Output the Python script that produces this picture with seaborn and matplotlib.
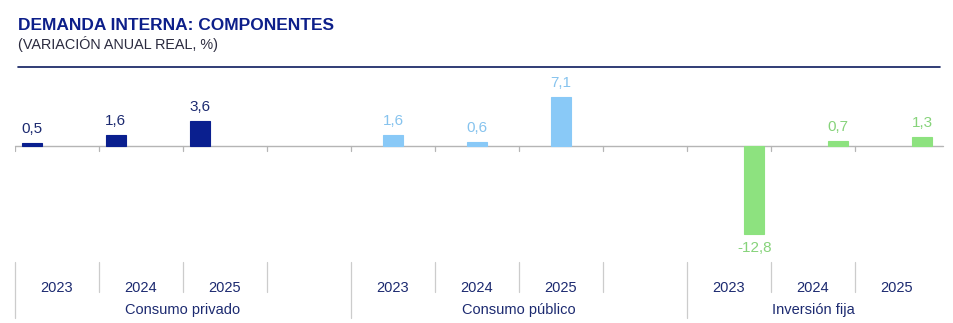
import matplotlib
matplotlib.use("Agg")
import matplotlib.pyplot as plt
import seaborn as sns
import pandas as pd
from matplotlib.lines import Line2D

# ---- data ----
groups = ["Consumo privado", "Consumo público", "Inversión fija"]
years = ["2023", "2024", "2025"]
consumo_privado = [0.5, 1.6, 3.6]
consumo_publico = [1.6, 0.6, 7.1]
inversion_fija = [-12.8, 0.7, 1.3]
series_values = [consumo_privado, consumo_publico, inversion_fija]
colors = {"Consumo privado": "#0a1f8f",
          "Consumo público": "#89c9f7",
          "Inversión fija": "#8de27f"}
label_colors = {"Consumo privado": "#1c2a70",
                "Consumo público": "#86c3ee",
                "Inversión fija": "#86d37a"}

rows = []
for g, vals in zip(groups, series_values):
    for y, v in zip(years, vals):
        rows.append({"slot": f"{g}|{y}", "group": g, "year": y, "value": v})
df = pd.DataFrame(rows)

order = []
for i, g in enumerate(groups):
    order += [f"{g}|{y}" for y in years]
    if i < len(groups) - 1:
        order.append(f"gap{i}")

# ---- figure ----
sns.set_theme(style="white")
plt.rcParams["font.family"] = ["Liberation Sans", "DejaVu Sans"]
W, H = 954, 323
fig = plt.figure(figsize=(W / 100, H / 100), dpi=100)
ax_left, ax_right = 15 / W, 939 / W
ax_top, ax_bot = 80 / H, 262 / H
ax = fig.add_axes([ax_left, 1 - ax_bot, ax_right - ax_left, ax_bot - ax_top])

sns.barplot(data=df, x="slot", y="value", hue="group", order=order,
            hue_order=groups, palette=colors, dodge=True, width=0.9,
            gap=0.22, legend=False, ax=ax, saturation=1)
for p in ax.patches:
    p.set_edgecolor(p.get_facecolor())
    p.set_linewidth(0.8)

ax.set_xlim(-0.5, len(order) - 0.5)
ax.set_ylim(-16.8, 9.6)
for s in ax.spines.values():
    s.set_visible(False)
ax.set_yticks([])
ax.set_xlabel("")
ax.set_ylabel("")
ax.axhline(0, color="#b5b5b5", lw=1.0, xmax=1.004, clip_on=False, zorder=0)

# value labels
for cont, g in zip(ax.containers, groups):
    ax.bar_label(cont, fmt=lambda v: f"{v:.1f}".replace(".", ","),
                 padding=5, fontsize=11, color=label_colors[g])

# x tick labels (years)
tick_pos = [i for i, o in enumerate(order) if not o.startswith("gap")]
tick_lab = [order[i].split("|")[1] for i in tick_pos]
ax.set_xticks(tick_pos)
ax.set_xticklabels(tick_lab, fontsize=10.5, color="#1c2a70")
ax.tick_params(axis="x", length=0, pad=14)

# small ticks on zero line and separators below
trans = ax.get_xaxis_transform()
ax_h_px = 262 - 80
for b in range(len(order)):
    x = b - 0.5
    ax.plot([x, x], [0, -0.7], color="#b5b5b5", lw=0.9, zorder=0)
    long = (b % 4 == 0)
    y_end = -(318 - 262) / ax_h_px if long else -(292 - 262) / ax_h_px
    ax.add_line(Line2D([x, x], [0.0, y_end], transform=trans, color="#cccccc",
                       lw=0.9, clip_on=False))

# group labels
for i, g in enumerate(groups):
    c = 4 * i + 1 + (0.5 if i < len(groups) - 1 else 0)
    ax.text(c, -(310 - 262) / ax_h_px, g, transform=trans, ha="center",
            va="center", fontsize=10.5, color="#1c2a70")

# title
fig.text(18 / W, 1 - 25 / H, "DEMANDA INTERNA: COMPONENTES", fontsize=12.5,
         fontweight="bold", color="#0d1f8a", va="center", ha="left")
fig.text(18 / W, 1 - 44 / H, "(VARIACIÓN ANUAL REAL, %)", fontsize=10.4,
         color="#2b2b3f", va="center", ha="left")
fig.add_artist(Line2D([18 / W, 940 / W], [1 - 67 / H, 1 - 67 / H],
                      transform=fig.transFigure, color="#0d1b5e", lw=1.2))

fig.savefig("out.png", dpi=100)
